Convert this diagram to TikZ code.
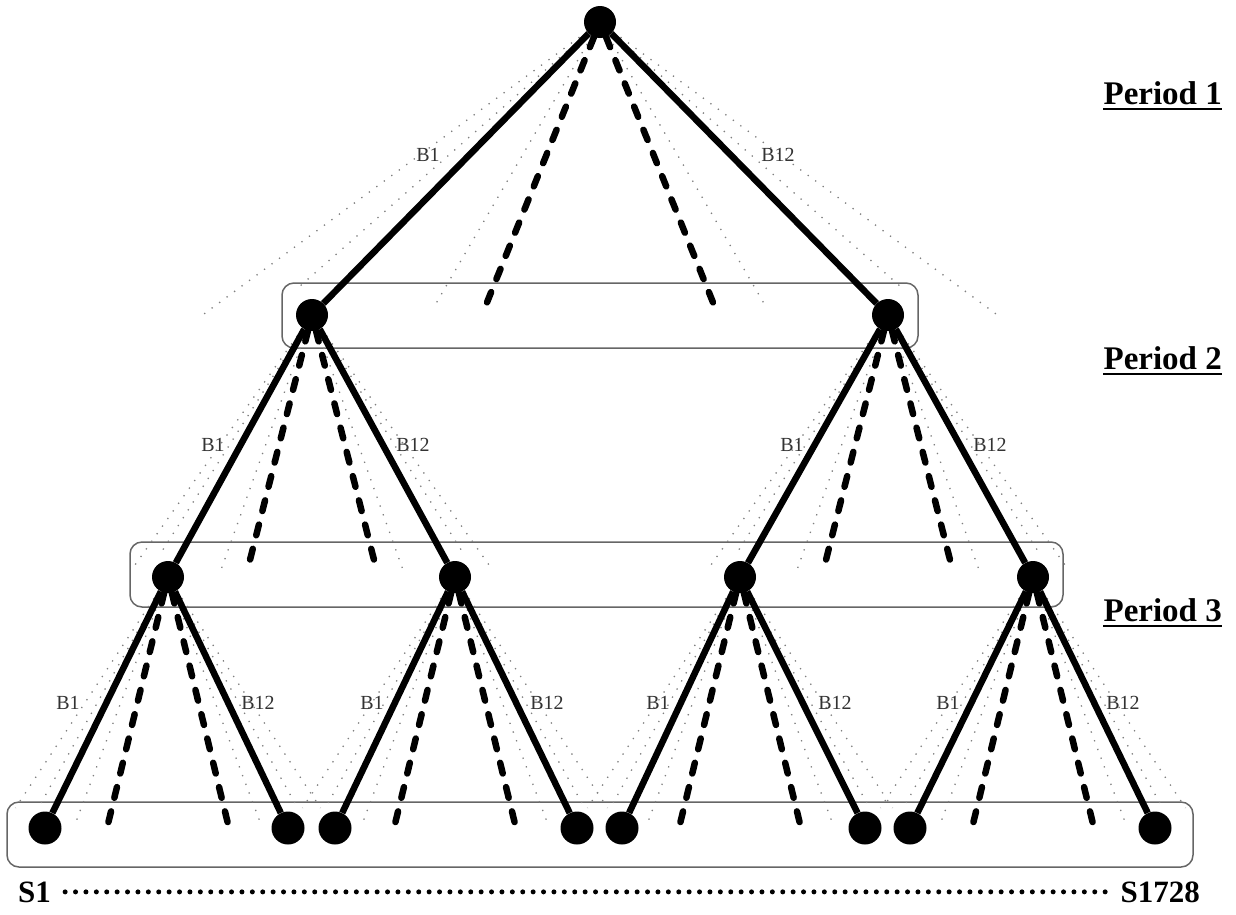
\documentclass[tikz,border=0pt]{standalone}
\usepackage{fontspec}
\setmainfont{Liberation Serif}
\usetikzlibrary{calc}
\tikzset{
 vtx/.style={circle, fill=black, inner sep=0pt, minimum size=32pt},
 leafvtx/.style={vtx, minimum size=33pt},
 mainedge/.style={line width=6.5pt},
 dashedge/.style={line width=6.5pt, line cap=round, dash pattern=on 11pt off 14pt},
 dotedge/.style={line width=1.3pt, black!50, dash pattern=on 1.3pt off 8pt},
 periodbox/.style={draw=black!60, line width=1.5pt, rounded corners=12pt, inner sep=0pt},
 blabel/.style={font=\fontsize{20}{20}\selectfont, text=black!80, inner sep=0pt},
 periodlabel/.style={font=\fontsize{33}{33}\selectfont\bfseries, inner sep=0pt, anchor=base east},
 slabel/.style={font=\fontsize{31}{31}\selectfont\bfseries, inner sep=0pt},
 underl/.style={line width=2.5pt},
 bigdots/.style={line width=5pt, line cap=round, dash pattern=on 0pt off 10.4pt},
}
% #1 parent, #2 h, #3 d, #4 dash frac, #5 dash depth, #6 inner frac, #7 outer frac, #8 outer depth
\newcommand\fanout[8]{%
 \path (#1) ++({-#4*#2},{#5*#3}) coordinate (#1-dl)
       (#1) ++({#4*#2},{#5*#3}) coordinate (#1-dr)
       (#1) ++({-#6*#2},{0.97*#3}) coordinate (#1-il)
       (#1) ++({#6*#2},{0.97*#3}) coordinate (#1-ir)
       (#1) ++({-1.04*#2},{0.9*#3}) coordinate (#1-sl)
       (#1) ++({1.04*#2},{0.9*#3}) coordinate (#1-sr)
       (#1) ++({-#7*#2},{#8*#3}) coordinate (#1-ol)
       (#1) ++({#7*#2},{#8*#3}) coordinate (#1-or);
 \foreach \e in {il,ir,sl,sr,ol,or} {\draw[dotedge] (#1) -- (#1-\e);}
 \draw[dashedge] (#1) -- (#1-dl);
 \draw[dashedge] (#1) -- (#1-dr);
}
\begin{document}
\begin{tikzpicture}[x=1pt,y=-1pt]
\useasboundingbox (0,0) rectangle (1236,914);
% period boxes
\node[periodbox, minimum width=636pt, minimum height=65pt] (box2) at (600,315.5) {};
\node[periodbox, minimum width=933pt, minimum height=65pt] (box3) at (596.5,574.5) {};
\node[periodbox, minimum width=1186pt, minimum height=65pt] (box4) at (600,834.5) {};
% vertices
\node[vtx] (n0) at (600,22) {};
\node[vtx] (a1) at (312,315) {};
\node[vtx] (a2) at (888,315) {};
\node[vtx] (b1) at (168,577) {};
\node[vtx] (b2) at (455,577) {};
\node[vtx] (b3) at (740,577) {};
\node[vtx] (b4) at (1033,577) {};
\node[leafvtx] (c1) at (45,828) {};
\node[leafvtx] (c2) at (288,828) {};
\node[leafvtx] (c3) at (335,828) {};
\node[leafvtx] (c4) at (577,828) {};
\node[leafvtx] (c5) at (622,828) {};
\node[leafvtx] (c6) at (865,828) {};
\node[leafvtx] (c7) at (910,828) {};
\node[leafvtx] (c8) at (1155,828) {};
% fans of other branches
\fanout{n0}{288}{293}{0.41}{1.0}{0.575}{1.38}{1.0}
\fanout{a1}{144}{262}{0.44}{0.955}{0.63}{1.25}{0.97}
\fanout{a2}{144}{262}{0.44}{0.955}{0.63}{1.25}{0.97}
\fanout{b1}{122}{251}{0.5}{1.0}{0.75}{1.25}{0.92}
\fanout{b2}{122}{251}{0.5}{1.0}{0.75}{1.25}{0.92}
\fanout{b3}{122}{251}{0.5}{1.0}{0.75}{1.25}{0.92}
\fanout{b4}{122}{251}{0.5}{1.0}{0.75}{1.25}{0.92}
% main branches
\draw[mainedge] (n0) -- (a1);
\draw[mainedge] (n0) -- (a2);
\draw[mainedge] (a1) -- (b1);
\draw[mainedge] (a1) -- (b2);
\draw[mainedge] (a2) -- (b3);
\draw[mainedge] (a2) -- (b4);
\draw[mainedge] (b1) -- (c1);
\draw[mainedge] (b1) -- (c2);
\draw[mainedge] (b2) -- (c3);
\draw[mainedge] (b2) -- (c4);
\draw[mainedge] (b3) -- (c5);
\draw[mainedge] (b3) -- (c6);
\draw[mainedge] (b4) -- (c7);
\draw[mainedge] (b4) -- (c8);
% branch labels
\node[blabel] (l01) at (428,155) {B1};
\node[blabel] (l02) at (778,155) {B12};
\node[blabel] (l11) at (213,445) {B1};
\node[blabel] (l12) at (413,445) {B12};
\node[blabel] (l21) at (792,445) {B1};
\node[blabel] (l22) at (990,445) {B12};
\node[blabel] (m11) at (68,703) {B1};
\node[blabel] (m12) at (258,703) {B12};
\node[blabel] (m21) at (372,703) {B1};
\node[blabel] (m22) at (547,703) {B12};
\node[blabel] (m31) at (658,703) {B1};
\node[blabel] (m32) at (835,703) {B12};
\node[blabel] (m41) at (948,703) {B1};
\node[blabel] (m42) at (1123,703) {B12};
% period labels
\node[periodlabel] (p1) at (1222,104) {Period 1};
\node[periodlabel] (p2) at (1222,369) {Period 2};
\node[periodlabel] (p3) at (1222,621) {Period 3};
\draw[underl] ([yshift=-5pt]p1.base west) -- ([yshift=-5pt]p1.base east);
\draw[underl] ([yshift=-5pt]p2.base west) -- ([yshift=-5pt]p2.base east);
\draw[underl] ([yshift=-5pt]p3.base west) -- ([yshift=-5pt]p3.base east);
% scenario labels
\node[slabel, anchor=base west] (s1) at (18,902) {S1};
\node[slabel, anchor=base east] (s2) at (1200,902) {S1728};
\draw[bigdots] ([xshift=14pt]s1.east) -- ([xshift=-10pt]s2.west);
\end{tikzpicture}
\end{document}
